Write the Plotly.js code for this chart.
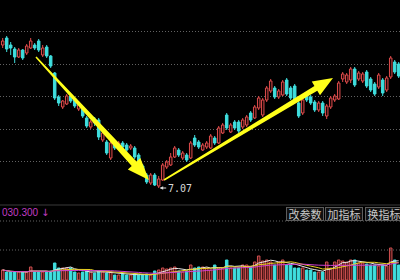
<!DOCTYPE html>
<html><head><meta charset="utf-8">
<script src="https://cdn.plot.ly/plotly-3.0.1.min.js"></script>
<style>html,body{margin:0;padding:0;background:#000;overflow:hidden}#chart{width:400px;height:280px}</style>
</head><body><div id="chart"></div>
<script>
// ---- data ----
const openP  = [8.50,8.57,8.50,8.46,8.38,8.45,8.42,8.47,8.50,8.54,8.40,8.48,8.39,8.22,7.98,7.88,7.91,7.99,7.95,7.86,
                7.87,7.77,7.68,7.76,7.75,7.55,7.53,7.37,7.52,7.49,7.52,7.50,7.47,7.47,7.40,7.29,7.20,7.12,7.20,7.09,
                7.15,7.28,7.30,7.38,7.45,7.37,7.40,7.37,7.57,7.53,7.45,7.48,7.47,7.57,7.52,7.62,7.80,7.63,7.73,7.73,
                7.68,7.70,7.82,7.77,7.87,7.80,7.95,8.04,8.07,7.98,8.00,8.15,8.07,8.09,7.92,7.82,8.00,7.98,7.93,7.85,
                7.92,7.79,7.88,7.95,7.96,8.16,8.13,8.15,8.26,8.16,8.14,8.23,8.16,8.11,8.08,8.15,8.05,8.18,8.33,8.31];
const highP  = [8.57,8.59,8.53,8.48,8.47,8.46,8.51,8.57,8.52,8.56,8.50,8.50,8.40,8.23,8.00,7.95,8.01,8.01,7.97,7.94,
                7.89,7.79,7.75,7.78,7.77,7.64,7.55,7.55,7.54,7.54,7.54,7.52,7.51,7.49,7.42,7.31,7.22,7.22,7.22,7.19,
                7.32,7.35,7.42,7.49,7.47,7.44,7.42,7.54,7.60,7.55,7.52,7.54,7.61,7.59,7.69,7.72,7.82,7.72,7.75,7.75,
                7.77,7.80,7.84,7.90,7.99,7.97,8.09,8.16,8.09,8.06,8.15,8.17,8.09,8.11,7.94,7.97,8.02,8.00,7.95,7.94,
                7.94,7.91,7.99,8.01,8.14,8.23,8.22,8.28,8.28,8.24,8.23,8.25,8.18,8.13,8.22,8.17,8.19,8.39,8.35,8.33];
const lowP   = [8.47,8.43,8.40,8.32,8.37,8.35,8.40,8.46,8.45,8.43,8.38,8.37,8.27,7.95,7.89,7.86,7.90,7.92,7.87,7.84,
                7.77,7.67,7.66,7.69,7.55,7.53,7.40,7.35,7.45,7.47,7.46,7.43,7.45,7.36,7.27,7.19,7.11,7.10,7.09,7.07,
                7.14,7.26,7.29,7.37,7.38,7.35,7.33,7.36,7.48,7.46,7.44,7.46,7.46,7.50,7.51,7.61,7.65,7.62,7.65,7.62,
                7.66,7.68,7.73,7.76,7.85,7.78,7.93,8.02,7.96,7.96,7.99,7.99,7.95,7.92,7.77,7.80,7.93,7.90,7.83,7.83,
                7.79,7.76,7.86,7.93,7.95,8.13,8.11,8.12,8.08,8.14,8.12,8.07,8.03,7.99,8.06,7.99,8.03,8.16,8.21,8.17];
const closeP = [8.54,8.46,8.47,8.38,8.45,8.37,8.49,8.54,8.47,8.45,8.47,8.39,8.29,7.97,7.92,7.94,7.99,7.94,7.89,7.92,
                7.79,7.69,7.73,7.72,7.58,7.62,7.42,7.52,7.47,7.52,7.48,7.45,7.49,7.38,7.29,7.21,7.13,7.20,7.10,7.16,
                7.30,7.33,7.38,7.47,7.40,7.42,7.35,7.52,7.50,7.48,7.50,7.52,7.59,7.52,7.67,7.70,7.67,7.70,7.67,7.64,
                7.75,7.78,7.75,7.88,7.97,7.95,8.07,8.14,7.98,8.04,8.13,8.01,7.97,7.94,7.79,7.95,7.95,7.92,7.85,7.92,
                7.82,7.89,7.97,7.99,8.12,8.21,8.20,8.26,8.10,8.22,8.21,8.09,8.05,8.01,8.20,8.02,8.17,8.37,8.23,8.19];
const volume = [10,8,8,8,8,8,8,13,8,8,8,8,
                9,17,12,12,12,12,
                8,7,8,9,8,7,9,8,7,8,
                5,5,6,5,5,6,5,5,6,5,
                9,10,12,11,12,13,9,8,9,
                15,12,13,13,12,10,15,12,
                12,20,12,12,12,15,15,
                13,18,24,19,20,18,15,18,20,15,15,
                12,12,12,10,10,8,8,8,18,
                12,18,20,19,18,20,20,17,17,16,15,15,14,15,14,32,20,15];
const indicatorValue = "030.300";
const buttonLabels = ["改参数","加指标","换指标"];

// ---- styling ----
const W=400, H=280;
const RED='#e04c4c', CYAN='#3fdede', GRID='#626262';
const idx = openP.map((_,i)=>i);
const up = idx.filter(i=>closeP[i]>=openP[i]);
const dn = idx.filter(i=>closeP[i]<openP[i]);

function bodyTrace(ids, line, fill){
  return {type:'bar', x:ids, base:ids.map(i=>Math.min(openP[i],closeP[i])),
    y:ids.map(i=>Math.max(Math.abs(closeP[i]-openP[i]),0.008)), width:0.62,
    marker:{color:fill, line:{color:line, width:1}}, xaxis:'x', yaxis:'y', hoverinfo:'skip'};
}
function wickTrace(ids, color){
  const xs=[], ys=[];
  ids.forEach(i=>{
    const top=Math.max(openP[i],closeP[i]), bot=Math.min(openP[i],closeP[i]);
    xs.push(i,i,null,i,i,null); ys.push(highP[i],top,null,bot,lowP[i],null);
  });
  return {type:'scatter', mode:'lines', x:xs, y:ys, line:{color:color,width:1}, xaxis:'x', yaxis:'y', hoverinfo:'skip'};
}
function volTrace(ids, line, fill){
  return {type:'bar', x:ids, y:ids.map(i=>volume[i]), width:0.62,
    marker:{color:fill, line:{color:line,width:1}}, xaxis:'x', yaxis:'y2', hoverinfo:'skip'};
}
function ma(arr,k){ return arr.map((_,i)=>{const s=arr.slice(Math.max(0,i-k+1),i+1); return s.reduce((a,b)=>a+b,0)/s.length;}); }

const traces = [
  wickTrace(up, RED), wickTrace(dn, CYAN),
  bodyTrace(up, RED, '#1a0606'), bodyTrace(dn, CYAN, CYAN),
  volTrace(up, '#d05050', '#4a1414'), volTrace(dn, CYAN, CYAN),
  {type:'scatter',mode:'lines',x:idx,y:ma(volume,5),line:{color:'#e8e8e8',width:1},xaxis:'x',yaxis:'y2'},
  {type:'scatter',mode:'lines',x:idx,y:ma(volume,10),line:{color:'#e8d020',width:1},xaxis:'x',yaxis:'y2'},
  {type:'scatter',mode:'lines',x:idx,y:ma(volume,20),line:{color:'#d040d0',width:1},xaxis:'x',yaxis:'y2'}
];

function px(x,y){ return (x/W).toFixed(4)+','+(1-y/H).toFixed(4); }
function arrowPath(p0,p1,w0,w1,headLen,headHalf){
  const dx=p1[0]-p0[0], dy=p1[1]-p0[1], L=Math.hypot(dx,dy);
  const ux=dx/L, uy=dy/L, nx=-uy, ny=ux;
  const bx=p1[0]-ux*headLen, by=p1[1]-uy*headLen;
  const pts=[[p0[0]+nx*w0/2,p0[1]+ny*w0/2],[bx+nx*w1/2,by+ny*w1/2],[bx+nx*headHalf,by+ny*headHalf],
    [p1[0],p1[1]],[bx-nx*headHalf,by-ny*headHalf],[bx-nx*w1/2,by-ny*w1/2],[p0[0]-nx*w0/2,p0[1]-ny*w0/2]];
  return 'M'+pts.map(p=>px(p[0],p[1])).join(' L')+' Z';
}

const mainBottom = 205;
let minI=0; lowP.forEach((v,i)=>{ if(v<lowP[minI]) minI=i; });
const DOT = '1px,2px';

const shapes = [
  {type:'path', xref:'paper', yref:'paper', path:arrowPath([36,57],[149,180],1.5,6.5,22,8.5), fillcolor:'#ffff1a', line:{width:0}},
  {type:'path', xref:'paper', yref:'paper', path:arrowPath([164,180],[333,78],1.5,5.5,20,8), fillcolor:'#ffff1a', line:{width:0}},
  {type:'line', xref:'paper', yref:'paper', x0:0, x1:1, y0:1-mainBottom/H, y1:1-mainBottom/H, line:{color:'#3a3a3a',width:1}},
  {type:'line', xref:'paper', yref:'paper', x0:0, x1:1, y0:1-221/H, y1:1-221/H, line:{color:GRID,width:1,dash:DOT}},
  {type:'line', xref:'paper', yref:'paper', x0:0, x1:1, y0:1-250/H, y1:1-250/H, line:{color:GRID,width:1,dash:DOT}}
];

const btnFont = {family:'Noto Sans CJK SC', size:11, color:'#c8c8c8'};
const annotations = [
  {x:minI, y:lowP[minI], xref:'x', yref:'y', text:lowP[minI].toFixed(2), showarrow:true, ax:21, ay:0,
   arrowhead:2, arrowsize:0.7, arrowwidth:1, arrowcolor:'#dddddd', standoff:1,
   font:{family:'DejaVu Sans Mono', size:10, color:'#d8d8d8'}},
  {x:0, y:1-212/H, xref:'paper', yref:'paper', xanchor:'left', yanchor:'middle', showarrow:false,
   text:indicatorValue, font:{family:'Liberation Sans', size:10, color:'#c23cc2'}},
  {x:45/W, y:1-212/H, xref:'paper', yref:'paper', xanchor:'center', yanchor:'middle', showarrow:false,
   text:'↓', font:{family:'DejaVu Sans', size:10, color:'#c23cc2'}}
];
[304.5, 343.5, 384].forEach((cx,k)=>{
  annotations.push({x:cx/W, y:1-213.5/H, xref:'paper', yref:'paper', xanchor:'center', yanchor:'middle',
    showarrow:false, text:buttonLabels[k], font:btnFont, bgcolor:'#111111', bordercolor:'#5c5c5c',
    borderwidth:1, borderpad:0, width:36, height:12});
});

const gridVals = [7.335,7.66,7.985,8.31,8.635];
const layout = {
  width:W, height:H, margin:{l:0,r:0,t:0,b:0}, paper_bgcolor:'#000', plot_bgcolor:'#000',
  showlegend:false, barmode:'overlay', bargap:0,
  xaxis:{range:[-0.675, 99.325], showgrid:false, zeroline:false, showticklabels:false, ticks:'', showline:false, fixedrange:true},
  yaxis:{domain:[1-mainBottom/H,1], range:[6.90,8.95], tickvals:gridVals, showticklabels:false, ticks:'',
         showgrid:true, gridcolor:GRID, griddash:DOT, gridwidth:1, zeroline:false, showline:false},
  yaxis2:{domain:[0,0.125], range:[0,35], anchor:'x', showgrid:false, zeroline:false, showticklabels:false, ticks:'', showline:false},
  shapes:shapes, annotations:annotations
};
Plotly.newPlot('chart', traces, layout, {staticPlot:true, displayModeBar:false});
</script></body></html>
